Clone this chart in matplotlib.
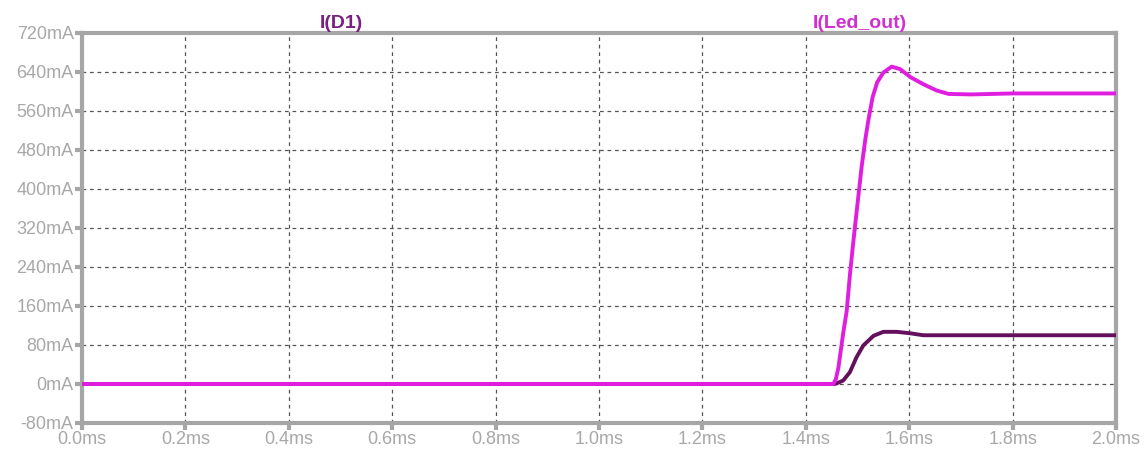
import matplotlib.pyplot as plt
from matplotlib.ticker import FuncFormatter

# transient sim: time in ms, currents in mA
t_led = [0.0, 1.453, 1.458, 1.463, 1.472, 1.479, 1.485, 1.492, 1.502, 1.508,
         1.515, 1.521, 1.529, 1.538, 1.550, 1.566, 1.582, 1.603, 1.627, 1.653,
         1.676, 1.72, 1.80, 2.0]
i_led = [0, 0, 10, 34, 103, 150, 222, 294, 390, 447,
         502, 542, 588, 619, 639, 651, 646, 629, 615, 602,
         595, 594, 596, 596]

t_d1 = [0.0, 1.455, 1.459, 1.472, 1.485, 1.498, 1.511, 1.531, 1.550, 1.576,
        1.602, 1.627, 2.0]
i_d1 = [0, 0, 1, 7, 24, 55, 79, 99, 107, 107,
        104, 100, 100]

y_ticks = [-80, 0, 80, 160, 240, 320, 400, 480, 560, 640, 720]
x_ticks = [0.0, 0.2, 0.4, 0.6, 0.8, 1.0, 1.2, 1.4, 1.6, 1.8, 2.0]

plt.rcParams["font.family"] = ["Liberation Sans", "DejaVu Sans"]

fig = plt.figure(figsize=(11.46, 4.57), dpi=100)
ax = fig.add_axes([0.0716, 0.0744, 0.9023, 0.8534])

ax.plot(t_d1, i_d1, color="#64105C", lw=2.8, zorder=3, solid_joinstyle="round")
ax.plot(t_led, i_led, color="#E01EE0", lw=2.8, zorder=4, solid_joinstyle="round")

ax.set_xlim(0, 2.0)
ax.set_ylim(-80, 720)
ax.set_xticks(x_ticks)
ax.set_yticks(y_ticks)
ax.xaxis.set_major_formatter(FuncFormatter(lambda v, p: f"{v:.1f}ms"))
ax.yaxis.set_major_formatter(FuncFormatter(lambda v, p: f"{v:.0f}mA"))

ax.grid(True, color="#555555", ls=(0, (3, 3)), lw=0.9)
for s in ax.spines.values():
    s.set_color("#A6A6A6")
    s.set_linewidth(3)
ax.tick_params(colors="#A6A6A6", labelcolor="#A8A8A8", labelsize=13,
               length=5, width=3, pad=1)

fig.text(341 / 1146, 1 - 28 / 457, "I(D1)", color="#7A2080", fontsize=14,
         fontweight="bold", ha="center", va="baseline")
fig.text(860 / 1146, 1 - 28 / 457, "I(Led_out)", color="#D030D0", fontsize=14,
         fontweight="bold", ha="center", va="baseline")

fig.savefig("out.png", dpi=100)
